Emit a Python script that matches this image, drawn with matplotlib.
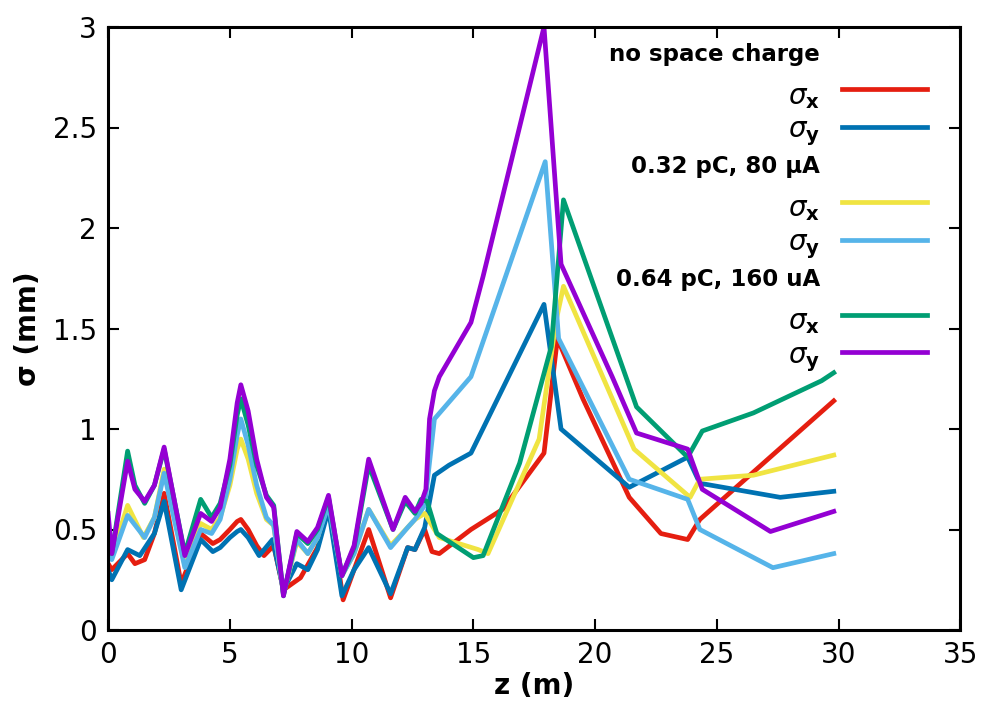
import matplotlib
matplotlib.use('Agg')
import matplotlib.pyplot as plt

# ---------------------------------------------------------------------------
# Data: beam size along z
# ---------------------------------------------------------------------------

# no space charge, sigma_x
z_sx0 = [0, 0.15, 0.8, 1.1, 1.5, 1.9, 2.3, 3.0, 3.8, 4.3, 4.6, 5.0, 5.3, 5.45,
         5.75, 6.1, 6.4, 6.8, 7.2, 7.9, 8.6, 9.05, 9.65, 10.1, 10.7, 11.6, 12.3,
         12.6, 13.0, 13.3, 13.6, 14.9, 16.2, 17.9, 18.45, 19.5, 21.4, 22.7,
         23.8, 24.3, 29.8]
sx0 = [0.33, 0.30, 0.38, 0.33, 0.35, 0.48, 0.68, 0.23, 0.48, 0.43, 0.45, 0.50,
       0.54, 0.55, 0.50, 0.42, 0.37, 0.42, 0.20, 0.26, 0.41, 0.65, 0.15, 0.30,
       0.50, 0.16, 0.41, 0.40, 0.50, 0.39, 0.38, 0.50, 0.60, 0.88, 1.45, 1.15,
       0.66, 0.48, 0.45, 0.55, 1.14]

# no space charge, sigma_y
z_sy0 = [0, 0.15, 0.8, 1.3, 1.9, 2.3, 3.0, 3.8, 4.3, 4.6, 5.0, 5.3, 5.45, 5.75,
         6.2, 6.75, 7.2, 7.75, 8.2, 8.6, 9.05, 9.6, 10.1, 10.7, 11.6, 12.3,
         12.6, 13.0, 13.4, 14.0, 14.9, 17.9, 18.6, 21.4, 23.8, 24.3, 27.6, 29.8]
sy0 = [0.30, 0.25, 0.40, 0.37, 0.48, 0.64, 0.20, 0.45, 0.39, 0.41, 0.46, 0.49,
       0.50, 0.46, 0.37, 0.45, 0.20, 0.33, 0.30, 0.40, 0.60, 0.17, 0.30, 0.41,
       0.18, 0.41, 0.40, 0.51, 0.77, 0.82, 0.88, 1.62, 1.00, 0.71, 0.86, 0.73,
       0.66, 0.69]

# 0.32 pC, sigma_x
z_sx1 = [0, 0.15, 0.8, 1.45, 1.9, 2.3, 3.15, 3.8, 4.25, 4.6, 5.0, 5.3, 5.45,
         5.75, 6.1, 6.5, 6.8, 7.2, 7.75, 8.2, 8.6, 9.05, 9.6, 10.1, 10.7, 11.6,
         12.3, 12.6, 13.0, 13.6, 15.2, 15.6, 17.7, 18.4, 18.7, 21.6, 23.9,
         24.3, 26.5, 29.8]
sx1 = [0.42, 0.37, 0.62, 0.46, 0.56, 0.80, 0.32, 0.53, 0.50, 0.56, 0.72, 0.90,
       0.95, 0.85, 0.68, 0.55, 0.52, 0.18, 0.44, 0.38, 0.46, 0.64, 0.27, 0.38,
       0.60, 0.42, 0.51, 0.55, 0.58, 0.46, 0.40, 0.38, 0.95, 1.54, 1.71, 0.90,
       0.66, 0.75, 0.77, 0.87]

# 0.32 pC, sigma_y
z_sy1 = [0, 0.15, 0.8, 1.5, 1.9, 2.3, 3.15, 3.8, 4.25, 4.6, 5.0, 5.3, 5.45,
         5.75, 6.1, 6.5, 6.8, 7.2, 7.75, 8.2, 8.6, 9.05, 9.6, 10.1, 10.7, 11.6,
         12.3, 12.6, 13.0, 13.4, 14.9, 17.95, 18.5, 21.4, 23.8, 24.3, 27.3,
         29.8]
sy1 = [0.40, 0.35, 0.57, 0.46, 0.56, 0.78, 0.31, 0.50, 0.48, 0.55, 0.75, 0.97,
       1.05, 0.92, 0.72, 0.56, 0.52, 0.18, 0.45, 0.38, 0.46, 0.62, 0.27, 0.38,
       0.60, 0.41, 0.51, 0.55, 0.62, 1.05, 1.26, 2.33, 1.45, 0.75, 0.65, 0.50,
       0.31, 0.38]

# 0.64 pC, sigma_x
z_sx2 = [0, 0.15, 0.8, 1.1, 1.5, 1.9, 2.3, 3.15, 3.8, 4.25, 4.6, 5.0, 5.3,
         5.45, 5.75, 6.1, 6.5, 6.8, 7.2, 7.75, 8.2, 8.6, 9.05, 9.6, 10.1, 10.7,
         11.7, 12.2, 12.6, 12.85, 13.1, 13.5, 15.0, 15.4, 16.9, 18.2, 18.7,
         21.7, 23.8, 24.4, 26.5, 29.3, 29.8]
sx2 = [0.50, 0.38, 0.89, 0.72, 0.63, 0.72, 0.90, 0.38, 0.65, 0.56, 0.63, 0.82,
       1.07, 1.15, 1.02, 0.82, 0.67, 0.62, 0.17, 0.48, 0.43, 0.50, 0.66, 0.27,
       0.41, 0.82, 0.50, 0.64, 0.58, 0.65, 0.64, 0.48, 0.36, 0.37, 0.83, 1.41,
       2.14, 1.11, 0.86, 0.99, 1.08, 1.24, 1.28]

# 0.64 pC, sigma_y
z_sy2 = [0, 0.15, 0.8, 1.1, 1.5, 1.9, 2.3, 3.15, 3.8, 4.25, 4.6, 5.0, 5.3,
         5.45, 5.75, 6.1, 6.5, 6.8, 7.2, 7.75, 8.2, 8.6, 9.05, 9.6, 10.1, 10.7,
         11.7, 12.2, 12.6, 12.85, 13.05, 13.2, 13.4, 13.6, 14.9, 15.4, 17.9,
         18.6, 20.7, 21.7, 23.8, 24.4, 27.2, 29.8]
sy2 = [0.58, 0.38, 0.84, 0.70, 0.64, 0.72, 0.91, 0.37, 0.58, 0.54, 0.61, 0.85,
       1.13, 1.22, 1.09, 0.85, 0.66, 0.61, 0.17, 0.49, 0.44, 0.51, 0.67, 0.27,
       0.42, 0.85, 0.50, 0.66, 0.59, 0.63, 0.70, 1.05, 1.19, 1.26, 1.53, 1.76,
       3.00, 1.82, 1.26, 0.98, 0.90, 0.70, 0.49, 0.59]

groups = ['no space charge', '0.32 pC, 80 μA', '0.64 pC, 160 uA']
series = [
    (z_sx0, sx0, '#e51e10'), (z_sy0, sy0, '#0072b2'),
    (z_sx1, sx1, '#f0e442'), (z_sy1, sy1, '#56b4e9'),
    (z_sx2, sx2, '#009e73'), (z_sy2, sy2, '#9400d3'),
]

# ---------------------------------------------------------------------------
# Plot
# ---------------------------------------------------------------------------

plt.rcParams['font.family'] = ['DejaVu Sans']
fig = plt.figure(figsize=(9.83, 7.2), dpi=100)
ax = fig.add_axes([0.110, 0.125, 0.867, 0.8375])

for z, s, c in series:
    ax.plot(z, s, color=c, lw=3.4)

ax.set_xlim(0, 35)
ax.set_ylim(0, 3)
ax.set_xticks(range(0, 36, 5))
ax.set_yticks([0, 0.5, 1, 1.5, 2, 2.5, 3])
ax.set_yticklabels(['0', '0.5', '1', '1.5', '2', '2.5', '3'])
ax.tick_params(direction='in', length=8, width=1.5, labelsize=20,
               top=True, right=True, pad=8)
for sp in ax.spines.values():
    sp.set_linewidth(2.2)

ax.set_xlabel('z (m)', fontsize=20, fontweight='bold', labelpad=2)
ax.set_ylabel('σ (mm)', fontsize=20, fontweight='bold', labelpad=8)

# gnuplot-style key, top right
tx = 0.835   # right edge of the text, axes coords
lx0, lx1 = 0.861, 0.961
row_h = 0.0623
y0 = 0.955
row = 0
for g in range(3):
    ax.text(tx, y0 - row * row_h, groups[g], transform=ax.transAxes,
            ha='right', va='center', fontsize=16.5, fontweight='bold')
    row += 1
    for k, lab in enumerate([r'$\sigma_{\mathbf{x}}$', r'$\sigma_{\mathbf{y}}$']):
        yy = y0 - row * row_h
        ax.text(tx, yy - 0.008, lab, transform=ax.transAxes,
                ha='right', va='center', fontsize=20)
        ax.plot([lx0, lx1], [yy + 0.004, yy + 0.004], transform=ax.transAxes,
                color=series[2 * g + k][2], lw=3.4, clip_on=False)
        row += 1

plt.savefig('out.png', dpi=100)
